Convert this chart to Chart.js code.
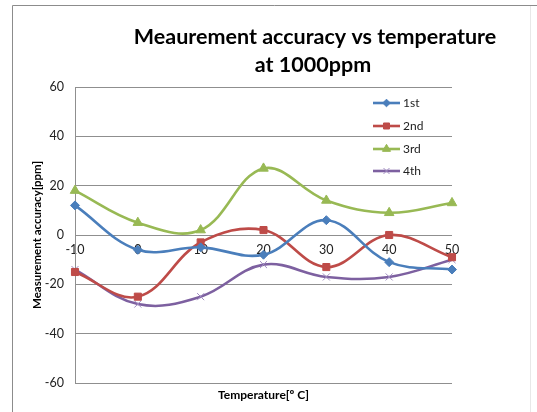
<!DOCTYPE html>
<html>
<head>
<meta charset="utf-8">
<script src="https://cdn.jsdelivr.net/npm/chart.js@4/dist/chart.umd.min.js"></script>
<style>
  html, body { margin: 0; padding: 0; background: #fff; }
  #wrap { position: relative; width: 537px; height: 412px; }
  canvas { display: block; }
</style>
</head>
<body>
<div id="wrap"><canvas id="c" width="537" height="412"></canvas></div>
<script>
// ---- data ----
const temperatures = ['-10', '0', '10', '20', '30', '40', '50'];
const series1st = [12, -6, -5, -8, 6, -11, -14];
const series2nd = [-15, -25, -3, 2, -13, 0, -9];
const series3rd = [18, 5, 2, 27, 14, 9, 13];
const series4th = [-14, -28, -25, -12, -17, -17, -10];
const seriesNames = ['1st', '2nd', '3rd', '4th'];
const yTicks = [-60, -40, -20, 0, 20, 40, 60];
const titleLines = ['Meaurement accuracy vs temperature', 'at 1000ppm'];
const xTitle = 'Temperature[º C]';
const yTitle = 'Measurement accuracy[ppm]';

const FONT = 'Lato, "Open Sans", sans-serif';
const colors = ['#4a7ebb', '#be4b48', '#98b954', '#7d60a0'];
const markers = ['rectRot', 'rect', 'triangle', 'crossRot'];
const radii = [4.5, 5, 5.5, 5];
const values = [series1st, series2nd, series3rd, series4th];

const datasets = values.map((v, i) => ({
  label: seriesNames[i],
  data: v,
  borderColor: colors[i],
  backgroundColor: colors[i],
  borderWidth: 2.6,
  pointStyle: markers[i],
  pointRadius: radii[i],
  pointBorderWidth: 1,
  pointBorderColor: i === 3 ? '#a08cc0' : colors[i],
  pointBackgroundColor: colors[i],
  tension: 0.38,
  fill: false
}));

const decor = {
  id: 'decor',
  beforeDraw(chart) {
    const ctx = chart.ctx;
    ctx.save();
    ctx.strokeStyle = '#8c8c8c';
    ctx.lineWidth = 1;
    ctx.beginPath();
    ctx.moveTo(12.5, 412);
    ctx.lineTo(12.5, 5.5);
    ctx.lineTo(537, 5.5);
    ctx.stroke();
    ctx.strokeStyle = '#e8e8e8';
    ctx.beginPath();
    ctx.moveTo(530.5, 6);
    ctx.lineTo(530.5, 412);
    ctx.stroke();
    ctx.restore();
  },
  afterDraw(chart) {
    const ctx = chart.ctx;
    const area = chart.chartArea;
    ctx.save();
    ctx.fillStyle = '#000';
    ctx.textAlign = 'center';
    ctx.textBaseline = 'middle';
    ctx.font = 'bold 21.5px ' + FONT;
    ctx.fillText(titleLines[0], 315, 37);
    ctx.fillText(titleLines[1], 313, 65);
    ctx.font = 'bold 12px ' + FONT;
    ctx.fillText(xTitle, (area.left + area.right) / 2, 395);
    ctx.font = 'bold 11.5px ' + FONT;
    ctx.translate(37, (area.top + area.bottom) / 2);
    ctx.rotate(-Math.PI / 2);
    ctx.fillText(yTitle, 0, 0);
    ctx.restore();

    // legend
    ctx.save();
    const ys = [103, 126, 149, 171];
    chart.data.datasets.forEach((ds, i) => {
      const y = ys[i];
      ctx.strokeStyle = ds.borderColor;
      ctx.lineWidth = 2.6;
      ctx.beginPath();
      ctx.moveTo(373, y);
      ctx.lineTo(400, y);
      ctx.stroke();
      ctx.fillStyle = ds.pointBackgroundColor;
      ctx.strokeStyle = ds.pointBorderColor;
      ctx.lineWidth = 1;
      Chart.helpers.drawPoint(ctx, {
        pointStyle: ds.pointStyle,
        radius: ds.pointRadius * 0.85,
        rotation: 0,
        borderWidth: 1
      }, 386.5, y);
      ctx.fillStyle = '#222';
      ctx.font = '12px ' + FONT;
      ctx.textAlign = 'left';
      ctx.textBaseline = 'middle';
      ctx.fillText(ds.label, 403, y + 0.5);
    });
    ctx.restore();
  }
};

new Chart(document.getElementById('c'), {
  type: 'line',
  data: { labels: temperatures, datasets },
  options: {
    responsive: false,
    animation: false,
    devicePixelRatio: 1,
    layout: { padding: { top: 87, bottom: 29, left: 0, right: 85 } },
    plugins: {
      legend: { display: false },
      title: { display: false },
      tooltip: { enabled: false }
    },
    scales: {
      x: {
        type: 'category',
        offset: false,
        position: { y: 0 },
        afterFit(scale) { scale.height = 0; },
        grid: { display: false, drawTicks: false },
        border: { display: false },
        ticks: {
          color: '#222',
          font: { size: 12.5, family: FONT },
          padding: 7,
          maxRotation: 0,
          autoSkip: false
        }
      },
      y: {
        min: -60,
        max: 60,
        afterFit(scale) { scale.width = 75; },
        afterBuildTicks(scale) { scale.ticks = yTicks.map(v => ({ value: v })); },
        grid: { color: '#8f8f8f', lineWidth: 1, drawTicks: false },
        border: { display: true, color: '#8f8f8f', width: 1 },
        ticks: {
          color: '#222',
          font: { size: 12.5, family: FONT },
          padding: 11
        }
      }
    }
  },
  plugins: [decor]
});
</script>
</body>
</html>
